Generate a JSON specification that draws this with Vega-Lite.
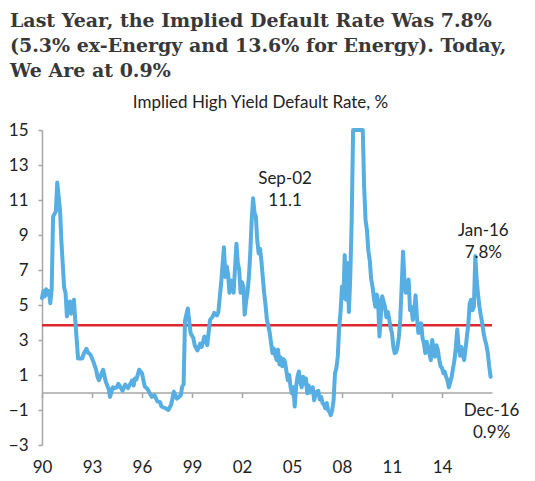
{
  "$schema": "https://vega.github.io/schema/vega-lite/v6.json",
  "width": 450,
  "height": 315,
  "autosize": {"type": "none"},
  "padding": {"left": 42, "top": 130, "right": 43, "bottom": 36},
  "background": "white",
  "config": {"view": {"stroke": null}, "font": "Lato"},
  "title": {
    "text": ["Last Year, the Implied Default Rate Was 7.8%", "(5.3% ex-Energy and 13.6% for Energy). Today,", "We Are at 0.9%"],
    "anchor": "start",
    "frame": "group",
    "dx": -32,
    "offset": 12,
    "font": "DejaVu Serif",
    "fontSize": 19,
    "fontWeight": "bold",
    "color": "#383838",
    "lineHeight": 25
  },
  "datasets": {
    "series": [
      {"date": "1990-01", "value": 5.4}, {"date": "1990-02", "value": 5.8}, {"date": "1990-03", "value": 5.5}, {"date": "1990-04", "value": 5.9}, {"date": "1990-05", "value": 5.6}, {"date": "1990-06", "value": 5.8}, {"date": "1990-07", "value": 5.1}, {"date": "1990-08", "value": 5.85}, {"date": "1990-09", "value": 10.05}, {"date": "1990-11", "value": 10.35}, {"date": "1990-12", "value": 12.0},
      {"date": "1991-01", "value": 11.2}, {"date": "1991-02", "value": 10.4}, {"date": "1991-03", "value": 8.7}, {"date": "1991-05", "value": 6.0}, {"date": "1991-06", "value": 5.7}, {"date": "1991-07", "value": 4.35}, {"date": "1991-08", "value": 4.9}, {"date": "1991-09", "value": 5.2}, {"date": "1991-10", "value": 4.5}, {"date": "1991-11", "value": 5.0}, {"date": "1991-12", "value": 5.3},
      {"date": "1992-01", "value": 4.1}, {"date": "1992-03", "value": 1.95}, {"date": "1992-06", "value": 1.95}, {"date": "1992-07", "value": 2.2}, {"date": "1992-09", "value": 2.5}, {"date": "1992-10", "value": 2.3}, {"date": "1992-12", "value": 2.15},
      {"date": "1993-02", "value": 1.75}, {"date": "1993-04", "value": 1.3}, {"date": "1993-05", "value": 0.9}, {"date": "1993-06", "value": 0.7}, {"date": "1993-08", "value": 1.1}, {"date": "1993-09", "value": 1.3}, {"date": "1993-11", "value": 0.6},
      {"date": "1994-01", "value": 0.2}, {"date": "1994-02", "value": -0.25}, {"date": "1994-04", "value": 0.3}, {"date": "1994-05", "value": 0.25}, {"date": "1994-07", "value": 0.3}, {"date": "1994-08", "value": 0.5}, {"date": "1994-10", "value": 0.25}, {"date": "1994-11", "value": 0.1},
      {"date": "1995-01", "value": 0.45}, {"date": "1995-03", "value": 0.25}, {"date": "1995-05", "value": 0.55}, {"date": "1995-06", "value": 0.7}, {"date": "1995-07", "value": 0.4}, {"date": "1995-08", "value": 0.8}, {"date": "1995-09", "value": 0.75}, {"date": "1995-11", "value": 1.3},
      {"date": "1996-01", "value": 1.1}, {"date": "1996-03", "value": 0.35}, {"date": "1996-05", "value": 0.2}, {"date": "1996-06", "value": 0.05}, {"date": "1996-08", "value": -0.25}, {"date": "1996-10", "value": -0.15}, {"date": "1996-12", "value": -0.5},
      {"date": "1997-02", "value": -0.55}, {"date": "1997-03", "value": -0.8}, {"date": "1997-06", "value": -0.9}, {"date": "1997-08", "value": -1.0}, {"date": "1997-10", "value": -0.7}, {"date": "1997-12", "value": 0.05},
      {"date": "1998-02", "value": -0.35}, {"date": "1998-05", "value": -0.15}, {"date": "1998-06", "value": 0.35}, {"date": "1998-07", "value": 0.45}, {"date": "1998-08", "value": 4.1}, {"date": "1998-10", "value": 4.8}, {"date": "1998-12", "value": 3.4},
      {"date": "1999-02", "value": 3.1}, {"date": "1999-03", "value": 2.7}, {"date": "1999-05", "value": 2.4}, {"date": "1999-07", "value": 2.8}, {"date": "1999-08", "value": 2.6}, {"date": "1999-10", "value": 3.2}, {"date": "1999-12", "value": 2.7},
      {"date": "2000-02", "value": 4.15}, {"date": "2000-04", "value": 4.35}, {"date": "2000-05", "value": 4.55}, {"date": "2000-07", "value": 4.4}, {"date": "2000-08", "value": 4.6}, {"date": "2000-10", "value": 6.25}, {"date": "2000-12", "value": 8.3},
      {"date": "2001-01", "value": 6.6}, {"date": "2001-02", "value": 7.2}, {"date": "2001-03", "value": 6.8}, {"date": "2001-04", "value": 5.7}, {"date": "2001-05", "value": 6.4}, {"date": "2001-06", "value": 6.25}, {"date": "2001-07", "value": 5.7}, {"date": "2001-09", "value": 8.5}, {"date": "2001-10", "value": 7.4}, {"date": "2001-11", "value": 7.0}, {"date": "2001-12", "value": 5.7},
      {"date": "2002-01", "value": 6.3}, {"date": "2002-02", "value": 6.05}, {"date": "2002-03", "value": 4.45}, {"date": "2002-04", "value": 5.2}, {"date": "2002-05", "value": 5.7}, {"date": "2002-06", "value": 6.6}, {"date": "2002-07", "value": 7.95}, {"date": "2002-08", "value": 9.85}, {"date": "2002-09", "value": 11.1}, {"date": "2002-10", "value": 10.3}, {"date": "2002-11", "value": 10.05}, {"date": "2002-12", "value": 8.7},
      {"date": "2003-01", "value": 7.95}, {"date": "2003-02", "value": 8.2}, {"date": "2003-03", "value": 7.55}, {"date": "2003-04", "value": 6.6}, {"date": "2003-05", "value": 5.7}, {"date": "2003-06", "value": 5.0}, {"date": "2003-07", "value": 4.15}, {"date": "2003-08", "value": 3.8}, {"date": "2003-09", "value": 3.4}, {"date": "2003-10", "value": 2.8}, {"date": "2003-11", "value": 2.25}, {"date": "2003-12", "value": 2.5},
      {"date": "2004-01", "value": 2.1}, {"date": "2004-02", "value": 1.85}, {"date": "2004-03", "value": 2.45}, {"date": "2004-04", "value": 1.6}, {"date": "2004-05", "value": 2.0}, {"date": "2004-06", "value": 1.5}, {"date": "2004-07", "value": 1.9}, {"date": "2004-08", "value": 1.75}, {"date": "2004-09", "value": 1.2}, {"date": "2004-10", "value": 0.7}, {"date": "2004-11", "value": 1.0}, {"date": "2004-12", "value": 0.3},
      {"date": "2005-01", "value": -0.05}, {"date": "2005-02", "value": 0.3}, {"date": "2005-03", "value": -0.8}, {"date": "2005-04", "value": 0.35}, {"date": "2005-05", "value": 0.9}, {"date": "2005-06", "value": 1.2}, {"date": "2005-07", "value": 0.6}, {"date": "2005-08", "value": 0.3}, {"date": "2005-09", "value": 0.9}, {"date": "2005-10", "value": 0.5}, {"date": "2005-11", "value": 0.8}, {"date": "2005-12", "value": -0.05},
      {"date": "2006-01", "value": 0.4}, {"date": "2006-02", "value": 0.0}, {"date": "2006-03", "value": 0.15}, {"date": "2006-04", "value": 0.3}, {"date": "2006-05", "value": -0.45}, {"date": "2006-06", "value": -0.1}, {"date": "2006-07", "value": 0.05}, {"date": "2006-08", "value": 0.1}, {"date": "2006-09", "value": -0.4}, {"date": "2006-10", "value": -0.25}, {"date": "2006-11", "value": -0.6}, {"date": "2006-12", "value": -0.7},
      {"date": "2007-01", "value": -0.9}, {"date": "2007-02", "value": -0.6}, {"date": "2007-03", "value": -1.0}, {"date": "2007-04", "value": -1.1}, {"date": "2007-05", "value": -1.3}, {"date": "2007-06", "value": -1.0}, {"date": "2007-07", "value": -0.45}, {"date": "2007-08", "value": 1.1}, {"date": "2007-09", "value": 1.4}, {"date": "2007-10", "value": 2.05}, {"date": "2007-11", "value": 3.75}, {"date": "2007-12", "value": 4.6},
      {"date": "2008-01", "value": 6.05}, {"date": "2008-02", "value": 5.4}, {"date": "2008-03", "value": 7.85}, {"date": "2008-04", "value": 5.3}, {"date": "2008-05", "value": 7.4}, {"date": "2008-06", "value": 4.6}, {"date": "2008-07", "value": 6.6}, {"date": "2008-08", "value": 9.85}, {"date": "2008-09", "value": 15.0},
      {"date": "2009-04", "value": 15.0}, {"date": "2009-05", "value": 11.75}, {"date": "2009-06", "value": 9.85}, {"date": "2009-07", "value": 9.3}, {"date": "2009-08", "value": 8.1}, {"date": "2009-09", "value": 7.55}, {"date": "2009-10", "value": 6.5}, {"date": "2009-11", "value": 6.05}, {"date": "2009-12", "value": 5.4},
      {"date": "2010-01", "value": 4.9}, {"date": "2010-02", "value": 5.6}, {"date": "2010-03", "value": 5.3}, {"date": "2010-04", "value": 3.2}, {"date": "2010-05", "value": 4.4}, {"date": "2010-06", "value": 5.5}, {"date": "2010-07", "value": 5.2}, {"date": "2010-08", "value": 4.9}, {"date": "2010-09", "value": 4.3}, {"date": "2010-10", "value": 4.6}, {"date": "2010-11", "value": 4.2}, {"date": "2010-12", "value": 3.7},
      {"date": "2011-01", "value": 3.4}, {"date": "2011-02", "value": 2.6}, {"date": "2011-03", "value": 2.25}, {"date": "2011-04", "value": 2.3}, {"date": "2011-05", "value": 2.6}, {"date": "2011-06", "value": 3.2}, {"date": "2011-07", "value": 4.15}, {"date": "2011-08", "value": 6.05}, {"date": "2011-09", "value": 8.05}, {"date": "2011-10", "value": 6.4}, {"date": "2011-11", "value": 5.7}, {"date": "2011-12", "value": 6.2},
      {"date": "2012-01", "value": 6.45}, {"date": "2012-02", "value": 4.7}, {"date": "2012-03", "value": 4.9}, {"date": "2012-04", "value": 4.15}, {"date": "2012-05", "value": 4.6}, {"date": "2012-06", "value": 5.55}, {"date": "2012-07", "value": 4.3}, {"date": "2012-08", "value": 3.4}, {"date": "2012-09", "value": 3.7}, {"date": "2012-10", "value": 3.95}, {"date": "2012-11", "value": 3.1}, {"date": "2012-12", "value": 2.8},
      {"date": "2013-01", "value": 2.25}, {"date": "2013-02", "value": 2.9}, {"date": "2013-03", "value": 2.6}, {"date": "2013-04", "value": 2.2}, {"date": "2013-05", "value": 1.85}, {"date": "2013-06", "value": 3.0}, {"date": "2013-07", "value": 2.5}, {"date": "2013-08", "value": 2.05}, {"date": "2013-09", "value": 2.7}, {"date": "2013-10", "value": 2.45}, {"date": "2013-11", "value": 1.9}, {"date": "2013-12", "value": 1.5},
      {"date": "2014-01", "value": 1.4}, {"date": "2014-02", "value": 1.1}, {"date": "2014-03", "value": 1.2}, {"date": "2014-04", "value": 0.9}, {"date": "2014-05", "value": 0.7}, {"date": "2014-06", "value": 0.3}, {"date": "2014-07", "value": 0.6}, {"date": "2014-08", "value": 0.9}, {"date": "2014-09", "value": 1.4}, {"date": "2014-10", "value": 1.85}, {"date": "2014-11", "value": 2.6}, {"date": "2014-12", "value": 3.6},
      {"date": "2015-01", "value": 2.6}, {"date": "2015-02", "value": 2.1}, {"date": "2015-03", "value": 2.6}, {"date": "2015-04", "value": 2.2}, {"date": "2015-05", "value": 1.85}, {"date": "2015-06", "value": 2.5}, {"date": "2015-07", "value": 3.2}, {"date": "2015-08", "value": 3.9}, {"date": "2015-09", "value": 5.1}, {"date": "2015-10", "value": 5.3}, {"date": "2015-11", "value": 4.7}, {"date": "2015-12", "value": 4.9},
      {"date": "2016-01", "value": 7.8}, {"date": "2016-02", "value": 6.4}, {"date": "2016-03", "value": 5.6}, {"date": "2016-04", "value": 4.9}, {"date": "2016-05", "value": 4.4}, {"date": "2016-06", "value": 3.95}, {"date": "2016-07", "value": 3.4}, {"date": "2016-08", "value": 3.0}, {"date": "2016-09", "value": 2.7}, {"date": "2016-10", "value": 2.25}, {"date": "2016-11", "value": 1.5}, {"date": "2016-12", "value": 0.9}
    ],
    "avg": [{"value": 3.85}]
  },
  "encoding": {
    "y": {
      "field": "value",
      "type": "quantitative",
      "scale": {"domain": [-3, 15], "nice": false, "zero": false},
      "axis": {
        "values": [-3, -1, 1, 3, 5, 7, 9, 11, 13, 15],
        "grid": false,
        "domain": true,
        "domainColor": "#A6A6A6",
        "domainWidth": 1.5,
        "ticks": true,
        "tickSize": 4,
        "tickColor": "#A6A6A6",
        "tickWidth": 1.5,
        "labelPadding": 10,
        "labelFont": "Lato",
        "labelFontSize": 17,
        "labelColor": "#222222",
        "title": "Implied High Yield Default Rate, %",
        "titleAngle": 0,
        "titleX": 218,
        "titleY": -23,
        "titleAlign": "center",
        "titleBaseline": "alphabetic",
        "titleFont": "Lato",
        "titleFontSize": 17,
        "titleFontWeight": "normal",
        "titleColor": "#222222"
      }
    }
  },
  "layer": [
    {
      "data": {"name": "avg"},
      "mark": {"type": "rule", "color": "#E0272D", "strokeWidth": 2.5},
      "encoding": {}
    },
    {
      "data": {"name": "series"},
      "mark": {"type": "line", "color": "#56AEE2", "strokeWidth": 4, "strokeJoin": "round", "strokeCap": "round"},
      "encoding": {
        "x": {
          "field": "date",
          "type": "temporal",
          "scale": {"domain": [{"year": 1990, "month": 1, "date": 1}, {"year": 2017, "month": 1, "date": 1}]},
          "axis": {
            "orient": "bottom",
            "values": [{"year": 1990}, {"year": 1993}, {"year": 1996}, {"year": 1999}, {"year": 2002}, {"year": 2005}, {"year": 2008}, {"year": 2011}, {"year": 2014}],
            "format": "%y",
            "domain": false,
            "ticks": false,
            "grid": false,
            "labelPadding": 14,
            "labelFont": "Lato",
            "labelFontSize": 17,
            "labelColor": "#222222",
            "labelFlush": false,
            "title": null
          }
        }
      }
    },
    {
      "encoding": {
        "x": {
          "field": "date",
          "type": "temporal",
          "scale": {"domain": [{"year": 1990, "month": 1, "date": 1}, {"year": 2017, "month": 1, "date": 1}]},
          "axis": {
            "orient": "bottom",
            "offset": -52.5,
            "values": [{"year": 1990}, {"year": 1993}, {"year": 1996}, {"year": 1999}, {"year": 2002}, {"year": 2005}, {"year": 2008}, {"year": 2011}, {"year": 2014}],
            "labels": false,
            "domain": true,
            "domainColor": "#A6A6A6",
            "domainWidth": 1.5,
            "ticks": true,
            "tickSize": 5,
            "tickColor": "#A6A6A6",
            "tickWidth": 1.5,
            "grid": false,
            "title": null
          }
        }
      },
      "layer": [
        {
          "data": {"values": [{"date": "2002-09", "value": 11.1, "label": "Sep-02\n11.1"}]},
          "mark": {"type": "text", "lineBreak": "\n", "dx": 32, "dy": -19, "baseline": "middle", "align": "center", "font": "Lato", "fontSize": 17, "lineHeight": 22, "color": "#222222"},
          "encoding": {"text": {"field": "label"}}
        },
        {
          "data": {"values": [{"date": "2016-01", "value": 7.8, "label": "Jan-16\n7.8%"}]},
          "mark": {"type": "text", "lineBreak": "\n", "dx": 8, "dy": -25, "baseline": "middle", "align": "center", "font": "Lato", "fontSize": 17, "lineHeight": 22, "color": "#222222"},
          "encoding": {"text": {"field": "label"}}
        },
        {
          "data": {"values": [{"date": "2016-12", "value": 0.9, "label": "Dec-16\n0.9%"}]},
          "mark": {"type": "text", "lineBreak": "\n", "dx": 1, "dy": 34, "baseline": "middle", "align": "center", "font": "Lato", "fontSize": 17, "lineHeight": 22, "color": "#222222"},
          "encoding": {"text": {"field": "label"}}
        }
      ]
    }
  ],
  "resolve": {"axis": {"x": "independent"}}
}
